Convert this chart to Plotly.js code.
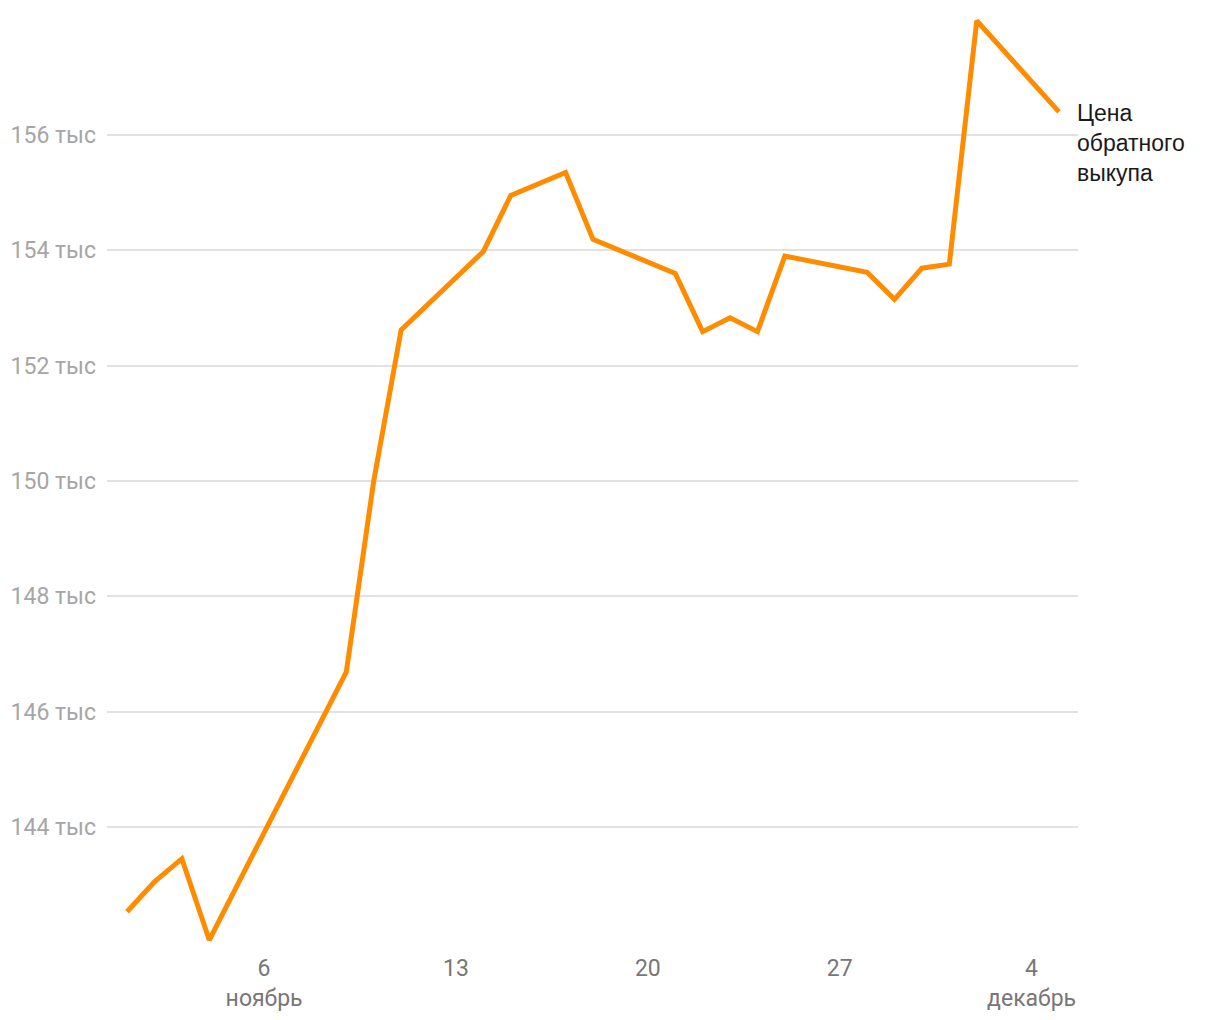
<!DOCTYPE html>
<html><head><meta charset="utf-8">
<script src="https://cdn.plot.ly/plotly-3.0.1.min.js"></script>
<style>html,body{margin:0;padding:0;background:#fff}#chart{width:1220px;height:1020px}</style>
</head><body><div id="chart"></div>
<script>
const dates = ["2022-11-01","2022-11-02","2022-11-03","2022-11-04","2022-11-09","2022-11-10","2022-11-11","2022-11-14","2022-11-15","2022-11-17","2022-11-18","2022-11-21","2022-11-22","2022-11-23","2022-11-24","2022-11-25","2022-11-28","2022-11-29","2022-11-30","2022-12-01","2022-12-02","2022-12-05"];
const prices = [142530,143050,143450,142040,146690,150000,152620,153980,154950,155350,154190,153600,152590,152830,152590,153900,153620,153150,153690,153760,157980,156400];
const seriesName = "Цена обратного выкупа";
const xTickVals = ["2022-11-06","2022-11-13","2022-11-20","2022-11-27","2022-12-04"];
const xTickText = ["6<br>ноябрь","13","20","27","4<br>декабрь"];
const yTickVals = [144000,146000,148000,150000,152000,154000,156000];
const yTickText = ["144 тыс","146 тыс","148 тыс","150 тыс","152 тыс","154 тыс","156 тыс"];

const trace = {
  x: dates, y: prices, type: "scatter", mode: "lines", name: seriesName,
  line: {color: "#FF8C00", width: 5}, hoverinfo: "x+y"
};
const layout = {
  width: 1220, height: 1020,
  margin: {l: 107, r: 142, t: 15, b: 70},
  paper_bgcolor: "#fff", plot_bgcolor: "#fff",
  showlegend: false,
  font: {family: "Roboto, sans-serif"},
  xaxis: {
    type: "date",
    range: ["2022-10-31 06:27", "2022-12-05 16:40"],
    tickvals: xTickVals, ticktext: xTickText,
    showgrid: false, zeroline: false, showline: false, ticks: "",
    ticklabelstandoff: 2,
    tickfont: {size: 23, color: "#777", family: "Roboto, sans-serif"}
  },
  yaxis: {
    range: [141867, 158080],
    tickvals: yTickVals, ticktext: yTickText,
    showgrid: true, gridcolor: "#e2e2e2", gridwidth: 1.5,
    zeroline: false, showline: false, ticks: "",
    ticklabelstandoff: 10,
    tickfont: {size: 23, color: "#a6a6a6", family: "Roboto, sans-serif"}
  },
  annotations: [{
    x: dates[dates.length-1], y: prices[prices.length-1],
    xref: "x", yref: "y", showarrow: false,
    text: "Цена<br>обратного<br>выкупа",
    xanchor: "left", yanchor: "top", align: "left",
    xshift: 16, yshift: 14,
    font: {size: 23, color: "#1a1a1a", family: "Liberation Sans, Arial, sans-serif"}
  }]
};
Plotly.newPlot("chart", [trace], layout, {displayModeBar: false, responsive: false});
</script>
</body></html>
